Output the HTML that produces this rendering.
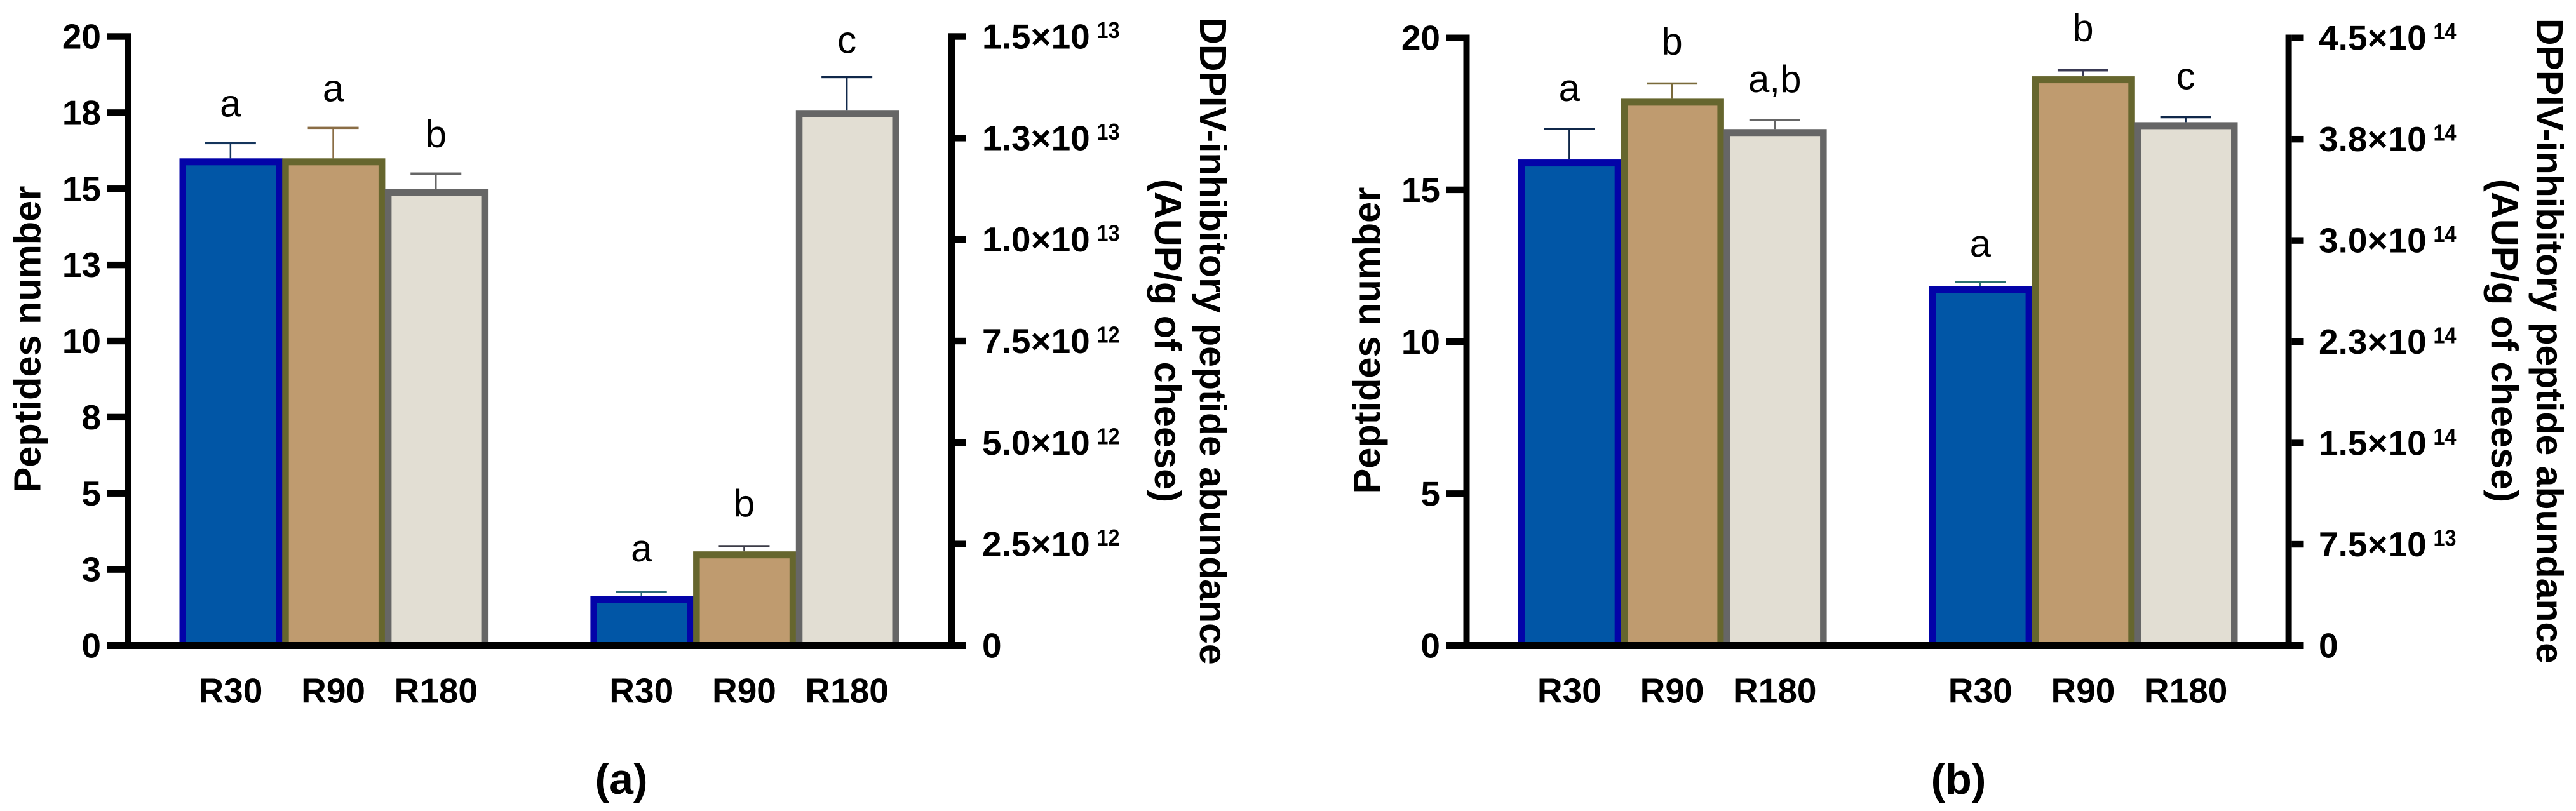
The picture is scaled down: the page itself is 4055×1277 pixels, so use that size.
<!DOCTYPE html>
<html lang="en">
<head>
<meta charset="utf-8">
<title>Peptides number and DPPIV-inhibitory peptide abundance</title>
<style>
  html, body { margin: 0; padding: 0; background: #ffffff; }
  svg { display: block; }
  text { font-family: "Liberation Sans", Arial, sans-serif; fill: #000000; }
  .title { font-weight: bold; font-size: 59.5px; text-anchor: middle; }
  .panel-label { font-weight: bold; font-size: 68px; text-anchor: middle; }
</style>
</head>
<body>
<svg id="chart" xmlns="http://www.w3.org/2000/svg" width="4055" height="1277" viewBox="0 0 4055 1277">
  <rect x="0" y="0" width="4055" height="1277" fill="#ffffff"/>
  <g id="panel-a"></g>
  <g id="panel-b"></g>

  <text class="title" transform="translate(63.5,534) rotate(-90)">Peptides number</text>
  <text class="title" transform="translate(1889,537) rotate(90)" style="font-size:59px">DDPIV-inhibitory peptide abundance</text>
  <text class="title" transform="translate(1818,536.5) rotate(90)">(AUP/g of cheese)</text>
  <text class="panel-label" x="978" y="1250">(a)</text>

  <text class="title" transform="translate(2172,536) rotate(-90)">Peptides number</text>
  <text class="title" transform="translate(3993,537) rotate(90)" style="font-size:59px">DPPIV-inhibitory peptide abundance</text>
  <text class="title" transform="translate(3922,536.5) rotate(90)">(AUP/g of cheese)</text>
  <text class="panel-label" x="3083" y="1250">(b)</text>
</svg>

<script>
// ---------- Shared data ----------
const categories = ['R30', 'R90', 'R180'];

// ---------- Panel (a) data ----------
const aPeptides = [16, 16, 15];
const aPeptidesUpper = [16.5, 17.0, 15.5];
const aPeptideLetters = ['a', 'a', 'b'];
const aAbundance = [1.215e12, 2.32e12, 1.319e13];
const aAbundanceUpper = [1.32e12, 2.448e12, 1.4e13];
const aAbundanceLetters = ['a', 'b', 'c'];
const aLeftTicks = [0, 2.5, 5, 7.5, 10, 12.5, 15, 17.5, 20];
const aLeftTickLabels = ['0', '3', '5', '8', '10', '13', '15', '18', '20'];
const aRightTicks = [0, 2.5e12, 5e12, 7.5e12, 1e13, 1.25e13, 1.5e13];
const aRightMantissas = ['0', '2.5×10', '5.0×10', '7.5×10', '1.0×10', '1.3×10', '1.5×10'];
const aRightExponents = ['', '12', '12', '12', '13', '13', '13'];

// ---------- Panel (b) data ----------
const bPeptides = [16, 18, 17];
const bPeptidesUpper = [17.0, 18.5, 17.3];
const bPeptideLetters = ['a', 'b', 'a,b'];
const bAbundance = [2.664e14, 4.216e14, 3.876e14];
const bAbundanceUpper = [2.693e14, 4.26e14, 3.913e14];
const bAbundanceLetters = ['a', 'b', 'c'];
const bLeftTicks = [0, 5, 10, 15, 20];
const bLeftTickLabels = ['0', '5', '10', '15', '20'];
const bRightTicks = [0, 7.5e13, 1.5e14, 2.25e14, 3e14, 3.75e14, 4.5e14];
const bRightMantissas = ['0', '7.5×10', '1.5×10', '2.3×10', '3.0×10', '3.8×10', '4.5×10'];
const bRightExponents = ['', '13', '14', '14', '14', '14', '14'];

// ---------- Bar styling ----------
const fillColors = ['#0156a6', '#bf9b6f', '#e2ded3'];
const borderColors = ['#0303a8', '#66662e', '#666666'];

const SVG_NS = 'http://www.w3.org/2000/svg';

function rect(parent, name, x, y, w, h, fill) {
  const el = document.createElementNS(SVG_NS, 'rect');
  
  
  el.setAttribute('x', x);
  el.setAttribute('y', y);
  el.setAttribute('width', w);
  el.setAttribute('height', h);
  el.setAttribute('fill', fill);
  parent.appendChild(el);
  return el;
}

function label(parent, name, x, y, str, size, weight, anchor, sx) {
  const el = document.createElementNS(SVG_NS, 'text');
  
  
  el.setAttribute('transform', 'translate(' + x + ',' + y + ') scale(' + sx + ',1)');
  el.setAttribute('font-size', size);
  el.setAttribute('font-weight', weight);
  el.setAttribute('text-anchor', anchor);
  el.textContent = str;
  parent.appendChild(el);
  return el;
}

function drawPanel(cfg) {
  const g = document.getElementById(cfg.id);
  const yLeft = v => cfg.y0 - (v / cfg.leftMax) * (cfg.y0 - cfg.yTop);
  const yRight = v => cfg.y0 - (v / cfg.rightMax) * (cfg.y0 - cfg.yTop);
  const barX = (group, i) => cfg.barStart + group * cfg.groupGap + i * cfg.barWidth;
  const barSet = [
    { values: cfg.peptides, upper: cfg.peptidesUpper, letters: cfg.peptideLetters, scale: yLeft, capColors: cfg.capColorsLeft, baselines: cfg.letterGapsLeft },
    { values: cfg.abundance, upper: cfg.abundanceUpper, letters: cfg.abundanceLetters, scale: yRight, capColors: cfg.capColorsRight, baselines: cfg.letterGapsRight }
  ];

  barSet.forEach(function (set, group) {
    set.values.forEach(function (value, i) {
      const x = barX(group, i);
      const top = set.scale(value);
      const cap = set.scale(set.upper[i]);
      const cx = x + cfg.barWidth / 2 - 0.5;
      const tag = cfg.id + '-group' + (group + 1) + '-' + categories[i].toLowerCase();
      rect(g, tag + '-error-stem', cx - 1.25, cap, 2.5, top - cap, set.capColors[i]);
      rect(g, tag + '-error-cap', cx - 40, cap - 1.75, 80, 3.5, set.capColors[i]);
      rect(g, tag + '-bar', x, top, cfg.barWidth + 0.5, cfg.y0 - top, borderColors[i]);
      rect(g, tag + '-bar-fill', x + 10.5, top + 11, cfg.barWidth - 20.5, cfg.y0 - top - 11, fillColors[i]);
      label(g, tag + '-significance-letter', cx, cap - set.baselines[i], set.letters[i], 60, 'normal', 'middle', 1);
      label(g, tag + '-category-label', cx, 1106.5, categories[i], 55, 'bold', 'middle', 1);
    });
  });

  // Axes sit on top of the bars
  rect(g, cfg.id + '-x-axis', cfg.tickLeftEnd, cfg.y0 - 5.5, cfg.tickRightEnd - cfg.tickLeftEnd, 11, '#000000');
  rect(g, cfg.id + '-left-axis', cfg.leftAxisX, cfg.yTop - 5.2, cfg.axisWidth, cfg.y0 - cfg.yTop + 5.2, '#000000');
  rect(g, cfg.id + '-right-axis', cfg.rightAxisX, cfg.yTop - 5.2, cfg.axisWidth, cfg.y0 - cfg.yTop + 5.2, '#000000');

  cfg.leftTicks.forEach(function (t, i) {
    const y = yLeft(t);
    rect(g, cfg.id + '-left-tick-' + i, cfg.tickLeftEnd, y - 5.2, cfg.leftAxisX - cfg.tickLeftEnd, 10.4, '#000000');
    label(g, cfg.id + '-left-tick-label-' + i, cfg.leftLabelX, y + 19, cfg.leftTickLabels[i], 55, 'bold', 'end', 1);
  });

  cfg.rightTicks.forEach(function (t, i) {
    const y = yRight(t);
    rect(g, cfg.id + '-right-tick-' + i, cfg.rightAxisX + cfg.axisWidth, y - 5.2, cfg.tickRightEnd - cfg.rightAxisX - cfg.axisWidth, 10.4, '#000000');
    label(g, cfg.id + '-right-tick-label-' + i, cfg.rightLabelX, y + 19, cfg.rightMantissas[i], 55, 'bold', 'start', 1);
    if (cfg.rightExponents[i]) {
      label(g, cfg.id + '-right-tick-exponent-' + i, cfg.rightLabelX + 180.5, y + 2.5, cfg.rightExponents[i], 36, 'bold', 'start', 0.9);
    }
  });
}

drawPanel({
  id: 'panel-a',
  y0: 1016.5, yTop: 57.5, leftMax: 20, rightMax: 1.5e13,
  barStart: 282.5, barWidth: 161.7, groupGap: 646.9,
  leftAxisX: 196, rightAxisX: 1493, axisWidth: 10,
  tickLeftEnd: 168, tickRightEnd: 1521,
  leftLabelX: 159, rightLabelX: 1546,
  peptides: aPeptides, peptidesUpper: aPeptidesUpper, peptideLetters: aPeptideLetters,
  abundance: aAbundance, abundanceUpper: aAbundanceUpper, abundanceLetters: aAbundanceLetters,
  leftTicks: aLeftTicks, leftTickLabels: aLeftTickLabels,
  rightTicks: aRightTicks, rightMantissas: aRightMantissas, rightExponents: aRightExponents,
  capColorsLeft: ['#14355c', '#8a6d45', '#666666'],
  capColorsRight: ['#2a6a78', '#3c3c48', '#10284a'],
  letterGapsLeft: [42, 42, 42],
  letterGapsRight: [48, 47, 38]
});

drawPanel({
  id: 'panel-b',
  y0: 1016.5, yTop: 59.7, leftMax: 20, rightMax: 4.5e14,
  barStart: 2390, barWidth: 161.7, groupGap: 646.9,
  leftAxisX: 2303.5, rightAxisX: 3597.6, axisWidth: 10,
  tickLeftEnd: 2277, tickRightEnd: 3626.5,
  leftLabelX: 2267, rightLabelX: 3650,
  peptides: bPeptides, peptidesUpper: bPeptidesUpper, peptideLetters: bPeptideLetters,
  abundance: bAbundance, abundanceUpper: bAbundanceUpper, abundanceLetters: bAbundanceLetters,
  leftTicks: bLeftTicks, leftTickLabels: bLeftTickLabels,
  rightTicks: bRightTicks, rightMantissas: bRightMantissas, rightExponents: bRightExponents,
  capColorsLeft: ['#10284a', '#7a6a3a', '#666666'],
  capColorsRight: ['#2a7070', '#3a3a55', '#10284a'],
  letterGapsLeft: [44, 46, 44],
  letterGapsRight: [40, 46, 44]
});
</script>
</body>
</html>
